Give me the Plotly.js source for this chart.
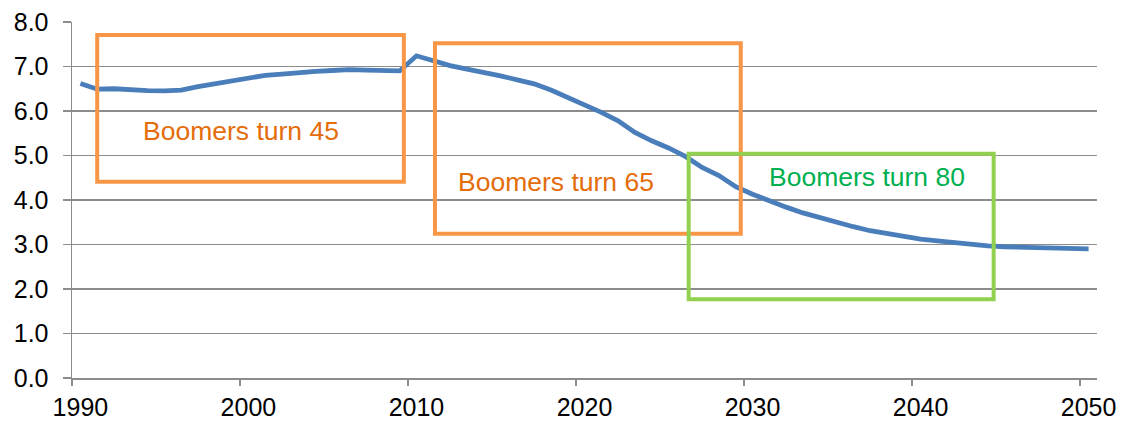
<!DOCTYPE html>
<html>
<head>
<meta charset="utf-8">
<script src="https://cdn.plot.ly/plotly-3.0.1.min.js"></script>
<style>
html,body{margin:0;padding:0;background:#fff;}
#chart{width:1121px;height:423px;}
</style>
</head>
<body>
<div id="chart"></div>
<script>
// Years (categories) and series values
const years = [];
for (let y = 1990; y <= 2050; y++) years.push(y);
const values = [
  6.62, 6.49, 6.50, 6.47, 6.46, 6.45, 6.47, 6.55, 6.61, 6.68,
  6.75, 6.80, 6.83, 6.87, 6.89, 6.91, 6.93, 6.92, 6.91, 6.90,
  7.24, 7.13, 7.02, 6.94, 6.87, 6.79, 6.70, 6.61, 6.47, 6.31,
  6.15, 5.97, 5.78, 5.52, 5.33, 5.17, 4.98, 4.73, 4.55, 4.30,
  4.13, 3.98, 3.84, 3.71, 3.60, 3.50, 3.40, 3.31, 3.24, 3.17,
  3.12, 3.08, 3.04, 3.00, 2.97, 2.95, 2.94, 2.93, 2.93, 2.91,
  2.90
];
const xTickLabels = [1990, 2000, 2010, 2020, 2030, 2040, 2050];
const yTickValues = [0, 1, 2, 3, 4, 5, 6, 7, 8];
const boxLabels = ['Boomers turn 45', 'Boomers turn 65', 'Boomers turn 80'];

const grey = '#8c8c8c';
const orange = '#F79646';
const green = '#92D050';

const trace = {
  x: years,
  y: values,
  type: 'scatter',
  mode: 'lines',
  line: {color: '#4A7EBB', width: 4.8},
  hoverinfo: 'skip'
};

function box(x0, x1, y0, y1, color) {
  return {type: 'rect', xref: 'x', yref: 'y', x0: x0, x1: x1, y0: y0, y1: y1,
          line: {color: color, width: 4}, fillcolor: 'rgba(0,0,0,0)', layer: 'above'};
}

const layout = {
  width: 1121,
  height: 423,
  margin: {l: 72, r: 24, t: 22, b: 45},
  paper_bgcolor: '#ffffff',
  plot_bgcolor: '#ffffff',
  showlegend: false,
  font: {family: 'Liberation Sans, Arial, sans-serif', size: 25, color: '#000'},
  xaxis: {
    range: [1989.5, 2050.5],
    tickmode: 'array',
    tickvals: xTickLabels,
    ticktext: xTickLabels.map(String),
    ticks: '',
    showgrid: false,
    zeroline: false,
    showline: true,
    linecolor: grey,
    linewidth: 1.5,
    ticklabelstandoff: 6,
    minor: {
      tickmode: 'array',
      tickvals: xTickLabels.map(v => v - 0.5),
      ticks: 'outside',
      ticklen: 6,
      tickwidth: 1.5,
      tickcolor: grey,
      showgrid: false
    },
    tickfont: {size: 25, color: '#000'},
    fixedrange: true
  },
  yaxis: {
    range: [0, 8],
    tickmode: 'array',
    tickvals: yTickValues,
    ticktext: yTickValues.map(v => v.toFixed(1)),
    ticks: 'outside',
    ticklen: 8,
    tickwidth: 1.5,
    tickcolor: grey,
    showgrid: true,
    gridcolor: grey,
    gridwidth: 1.5,
    zeroline: false,
    showline: true,
    linecolor: grey,
    linewidth: 1.5,
    ticklabelstandoff: 9,
    tickfont: {size: 25, color: '#000'},
    fixedrange: true
  },
  shapes: [
    box(1991.0, 2009.25, 4.41, 7.71, orange),
    box(2011.1, 2029.3, 3.24, 7.52, orange),
    box(2026.2, 2044.35, 1.77, 5.04, green)
  ],
  annotations: [
    {x: 1999.55, y: 5.55, xref: 'x', yref: 'y', text: boxLabels[0], showarrow: false,
     font: {size: 26.5, color: '#E46C0A'}, xanchor: 'center', yanchor: 'middle'},
    {x: 2018.3, y: 4.41, xref: 'x', yref: 'y', text: boxLabels[1], showarrow: false,
     font: {size: 26.5, color: '#E46C0A'}, xanchor: 'center', yanchor: 'middle'},
    {x: 2036.8, y: 4.51, xref: 'x', yref: 'y', text: boxLabels[2], showarrow: false,
     font: {size: 26.5, color: '#00B050'}, xanchor: 'center', yanchor: 'middle'}
  ]
};

Plotly.newPlot('chart', [trace], layout, {displayModeBar: false, staticPlot: true});
</script>
</body>
</html>
